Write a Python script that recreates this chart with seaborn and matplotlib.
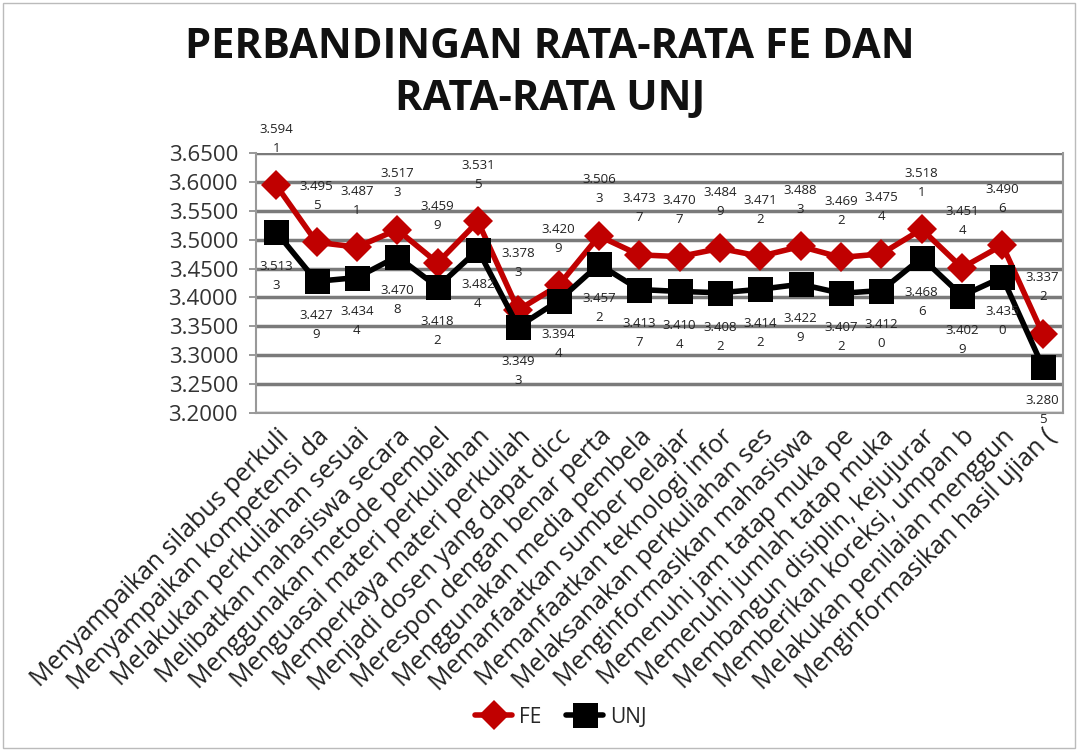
import matplotlib
matplotlib.use("Agg")
import matplotlib.pyplot as plt
import seaborn as sns
import pandas as pd
import numpy as np
from matplotlib.patches import Rectangle

categories = [
    "Menyampaikan silabus perkuli", "Menyampaikan kompetensi da",
    "Melakukan perkuliahan sesuai", "Melibatkan mahasiswa secara",
    "Menggunakan metode pembel", "Menguasai materi perkuliahan",
    "Memperkaya materi perkuliah", "Menjadi dosen yang dapat dicc",
    "Merespon dengan benar perta", "Menggunakan media pembela",
    "Memanfaatkan sumber belajar", "Memanfaatkan teknologi infor",
    "Melaksanakan perkuliahan ses", "Menginformasikan mahasiswa",
    "Memenuhi jam tatap muka pe", "Memenuhi jumlah tatap muka",
    "Membangun disiplin, kejujurar", "Memberikan koreksi, umpan b",
    "Melakukan penilaian menggun", "Menginformasikan hasil ujian (",
]
fe = [3.5941, 3.4955, 3.4871, 3.5173, 3.4599, 3.5315, 3.3783, 3.4209, 3.5063, 3.4737,
      3.4707, 3.4849, 3.4712, 3.4883, 3.4692, 3.4754, 3.5181, 3.4514, 3.4906, 3.3372]
unj = [3.5133, 3.4279, 3.4344, 3.4708, 3.4182, 3.4824, 3.3493, 3.3944, 3.4572, 3.4137,
       3.4104, 3.4082, 3.4142, 3.4229, 3.4072, 3.4120, 3.4686, 3.4029, 3.4350, 3.2805]
yticks = [3.20, 3.25, 3.30, 3.35, 3.40, 3.45, 3.50, 3.55, 3.60, 3.65]
title_lines = ["PERBANDINGAN RATA-RATA FE DAN", "RATA-RATA UNJ"]

sns.set_theme(style="white")
plt.rcParams['font.family'] = ['Open Sans', 'DejaVu Sans']

fig = plt.figure(figsize=(10.78, 7.51), dpi=100)
ax = fig.add_axes([0.2375, 0.450, 0.7485, 0.3463])

idx = np.arange(len(categories))
df_fe = pd.DataFrame({"idx": idx, "val": fe, "series": "FE"})
df_unj = pd.DataFrame({"idx": idx, "val": unj, "series": "UNJ"})

sns.lineplot(data=df_fe, x="idx", y="val", color="#C00000", marker="D",
             linewidth=4, markersize=15, markeredgewidth=0, ax=ax,
             label="FE", zorder=3)
sns.lineplot(data=df_unj, x="idx", y="val", color="#000000", marker="s",
             linewidth=4, markersize=18, markeredgewidth=0, ax=ax,
             label="UNJ", zorder=3)

ax.set_xlim(-0.5, len(categories) - 0.5)
ax.set_ylim(3.2, 3.65)
ax.set_yticks(yticks)
ax.set_yticklabels([f"{t:.4f}" for t in yticks], fontsize=16, color="#333333")
ax.set_xticks(idx)
ax.set_xticklabels(categories, rotation=45, ha="right", rotation_mode="anchor",
                   fontsize=18, color="#222222")
ax.tick_params(axis="x", pad=8, length=0)
ax.tick_params(axis="y", length=5, width=1.2, color="#888888", left=True, pad=8)
ax.set_xlabel("")
ax.set_ylabel("")

for t in yticks:
    ax.axhline(t, color="#7a7a7a", linewidth=2.5, zorder=1)
for s in ["left", "bottom", "right"]:
    ax.spines[s].set_color("#999999")
    ax.spines[s].set_linewidth(1.5)
ax.spines["top"].set_visible(False)


def wrap(v):
    s = f"{v:.4f}"
    return s[:5] + "\n" + s[5:]


for i, v in enumerate(fe):
    ax.annotate(wrap(v), (i, v), xytext=(0, 22), textcoords="offset points",
                ha="center", va="bottom", fontsize=9.5, color="#222222",
                linespacing=1.6, zorder=4, annotation_clip=False)
for i, v in enumerate(unj):
    ax.annotate(wrap(v), (i, v), xytext=(0, -20), textcoords="offset points",
                ha="center", va="top", fontsize=9.5, color="#222222",
                linespacing=1.6, zorder=4, annotation_clip=False)

leg = ax.legend(loc="center", bbox_to_anchor=(0.52, 0.045),
                bbox_transform=fig.transFigure, frameon=False, fontsize=15,
                ncol=2, handlelength=1.8, columnspacing=1.2, handletextpad=0.3)

fig.text(0.51, 0.937, title_lines[0], ha="center", va="center",
         fontsize=30, fontweight="bold", color="#111111")
fig.text(0.51, 0.867, title_lines[1], ha="center", va="center",
         fontsize=30, fontweight="bold", color="#111111")

fig.patches.append(Rectangle((0.003, 0.004), 0.994, 0.992, transform=fig.transFigure,
                             fill=False, edgecolor="#bbbbbb", linewidth=1))

fig.savefig("out.png", dpi=100)
